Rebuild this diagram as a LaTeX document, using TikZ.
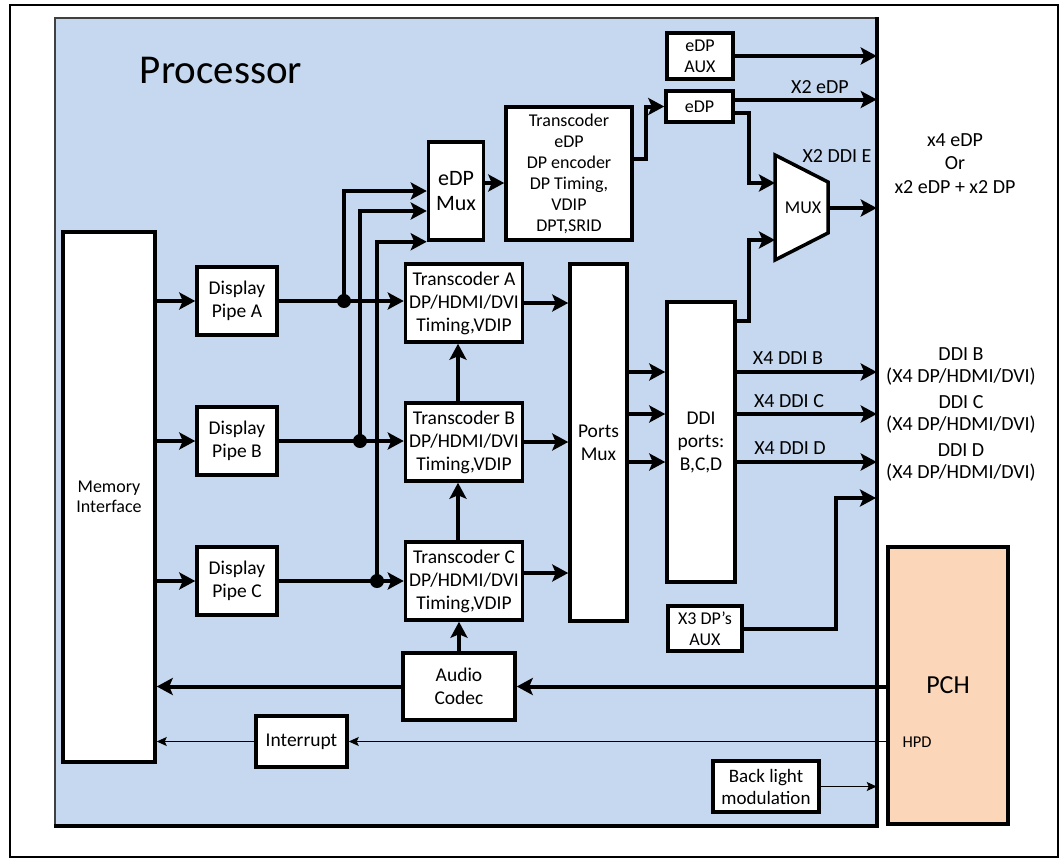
\documentclass[tikz,border=0pt]{standalone}
\usepackage{fontspec}
\setmainfont{Carlito}
\usetikzlibrary{arrows.meta}
\definecolor{procblue}{HTML}{C5D8EF}
\definecolor{pchpeach}{HTML}{FBD6B8}

\begin{document}
\begin{tikzpicture}
  [x=1pt,y=-1pt,
  blk/.style={draw, fill=white, line width=3.5pt, align=center, inner sep=1pt,
    font=\fontsize{19.5}{23}\selectfont},
  arr/.style={line width=4pt, -{Stealth[length=16pt,width=17pt,inset=3.5pt]}},
  thn/.style={line width=1.2pt, -{Stealth[length=10pt,width=9pt,inset=2pt]}},
  lbl/.style={font=\fontsize{20}{23}\selectfont, align=center}]
  \useasboundingbox (0,0) rectangle (1061,860);
  \draw[line width=2pt] (10,5) rectangle (1058,857);
  \node[fill=procblue, draw=black!75, line width=1.5pt, minimum width=821pt,
    minimum height=807pt, inner sep=0pt] (proc) at (465.5,421.5) {};
  \draw[line width=4pt] (proc.north east) -- (proc.south east) -- (proc.south west);
  \node[font=\fontsize{41}{48}\selectfont] (title) at (221,70) {Processor};

  \node[blk, minimum width=92pt, minimum height=530pt, font=\fontsize{18}{20}\selectfont]
    (mem) at (109,497) {Memory\\Interface};
  \node[blk, minimum width=80pt, minimum height=68pt] (pipeA) at (237,301) {Display\\Pipe A};
  \node[blk, minimum width=80pt, minimum height=68pt] (pipeB) at (237,441) {Display\\Pipe B};
  \node[blk, minimum width=80pt, minimum height=68pt] (pipeC) at (237,581) {Display\\Pipe C};
  \node[blk, minimum width=117pt, minimum height=78pt] (trA) at (464,303)
    {Transcoder A\\DP/HDMI/DVI\\Timing,VDIP};
  \node[blk, minimum width=117pt, minimum height=78pt] (trB) at (464,442)
    {Transcoder B\\DP/HDMI/DVI\\Timing,VDIP};
  \node[blk, minimum width=117pt, minimum height=78pt] (trC) at (464,581)
    {Transcoder C\\DP/HDMI/DVI\\Timing,VDIP};
  \node[blk, minimum width=55pt, minimum height=98pt, font=\fontsize{22}{25}\selectfont]
    (edpmux) at (456,191) {eDP\\Mux};
  \node[blk, minimum width=126pt, minimum height=133pt, font=\fontsize{18}{21}\selectfont]
    (tredp) at (569,173.5) {Transcoder\\eDP\\DP encoder\\DP Timing,\\VDIP\\DPT,SRID};
  \node[blk, minimum width=67pt, minimum height=31pt, font=\fontsize{18}{21}\selectfont]
    (edp) at (699.5,106.5) {eDP};
  \node[blk, minimum width=66pt, minimum height=46pt, font=\fontsize{18}{21}\selectfont]
    (edpaux) at (700,56) {eDP\\AUX};
  \node[blk, minimum width=57pt, minimum height=357pt] (ports) at (598.5,442.5) {Ports\\Mux};
  \node[blk, minimum width=68pt, minimum height=280pt] (ddi) at (701,442) {DDI\\ports:\\B,C,D};
  \node[blk, minimum width=74pt, minimum height=45pt, font=\fontsize{18}{21}\selectfont]
    (aux) at (705,628.5) {X3 DP’s\\AUX};
  \node[blk, minimum width=112pt, minimum height=67pt] (audio) at (459,686.5) {Audio\\Codec};
  \node[blk, minimum width=91pt, minimum height=51pt] (intr) at (301.5,741.5) {Interrupt};
  \node[blk, minimum width=106pt, minimum height=51pt, font=\fontsize{19}{22}\selectfont]
    (back) at (766,786.5) {Back light\\modulation};
  \node[draw, fill=pchpeach, line width=3.5pt, minimum width=120pt, minimum height=277pt,
    font=\fontsize{26}{30}\selectfont] (pch) at (948,685.5) {PCH};
  \node[font=\fontsize{16.5}{19}\selectfont] (hpd) at (917,742) {HPD};

  \draw[line width=3.5pt, fill=white] (775,155) -- (828,182) -- (828,233) -- (775,260) -- cycle;
  \node[font=\fontsize{18}{20}\selectfont] (mux) at (803,208) {MUX};
  \coordinate (muxin1) at (775,183);
  \coordinate (muxin2) at (775,240);
  \coordinate (muxout) at (828,208);
  \coordinate (auxend) at (876,498);
  \coordinate (jA) at (344,301);
  \coordinate (jB) at (360,441);
  \coordinate (jC) at (377,581);

  \foreach \p in {pipeA,pipeB,pipeC}
    \draw[arr] (mem.east |- \p) -- (\p.west);
  \draw[arr] (pipeA.east) -- (pipeA.east -| trA.west);
  \draw[arr] (pipeB.east) -- (pipeB.east -| trB.west);
  \draw[arr] (pipeC.east) -- (pipeC.east -| trC.west);
  \draw[arr] (jA) |- (edpmux.west);
  \draw[arr] (jB) |- ([yshift=-20pt]edpmux.west);
  \draw[arr] (jC) |- (edpmux.south west);
  \foreach \j in {jA,jB,jC}
    \fill (\j) circle (7);

  \draw[arr] ([yshift=8pt]edpmux.east) -- ([yshift=8pt]edpmux.east -| tredp.west);
  \draw[arr] ([yshift=15pt]tredp.east) -- ++(12,0) |- (edp.west);
  \draw[arr] (edpaux.east) -- (edpaux.east -| proc.east);
  \draw[arr] ([yshift=7pt]edp.east) -- ([yshift=7pt]edp.east -| proc.east);
  \draw[arr] ([yshift=-6pt]edp.east) -- ++(14,0) |- (muxin1);
  \draw[arr] ([yshift=-21pt]ddi.north east) -- ++(12,0) |- (muxin2);
  \draw[arr] (muxout) -- (muxout -| proc.east);

  \draw[arr] (trA.east) -- (trA.east -| ports.west);
  \draw[arr] (trB.east) -- (trB.east -| ports.west);
  \draw[arr] ([yshift=8pt]trC.east) -- ([yshift=8pt]trC.east -| ports.west);
  \draw[arr] ([xshift=-6pt]trB.north) -- ([xshift=-6pt]trA.south);
  \draw[arr] ([xshift=-6pt]trC.north) -- ([xshift=-6pt]trB.south);
  \draw[arr] (audio.north) -- (audio.north |- trC.south);

  \foreach \s in {70,28,-20} {
    \draw[arr] ([yshift=\s pt]ddi.west -| ports.east) -- ([yshift=\s pt]ddi.west);
    \draw[arr] ([yshift=\s pt]ddi.east) -- ([yshift=\s pt]ddi.east -| proc.east);
  }
  \draw[arr] (aux.east) -- ++(92,0) |- (auxend);

  \draw[arr] (audio.east -| pch.west) -- (audio.east);
  \draw[arr] (audio.west) -- (audio.west -| mem.east);
  \draw[thn] (intr.east -| pch.west) -- (intr.east);
  \draw[thn] (intr.west) -- (intr.west -| mem.east);
  \draw[thn] (back.east) -- (back.east -| proc.east);

  \node[lbl] (lbledp) at (820,87) {X2 eDP};
  \node[lbl] (lblddie) at (837,156) {X2 DDI E};
  \node[lbl] (lblddib) at (788,358) {X4 DDI B};
  \node[lbl] (lblddic) at (789,401) {X4 DDI C};
  \node[lbl] (lblddid) at (790,448) {X4 DDI D};
  \node[lbl, font=\fontsize{20}{23.5}\selectfont] (outedp) at (955,163.5)
    {x4 eDP\\Or\\x2 eDP + x2 DP};
  \node[lbl, font=\fontsize{20}{22}\selectfont] (outb) at (961,366) {DDI B\\(X4 DP/HDMI/DVI)};
  \node[lbl, font=\fontsize{20}{22}\selectfont] (outc) at (961,414) {DDI C\\(X4 DP/HDMI/DVI)};
  \node[lbl, font=\fontsize{20}{22}\selectfont] (outd) at (961,462) {DDI D\\(X4 DP/HDMI/DVI)};
\end{tikzpicture}
\end{document}
